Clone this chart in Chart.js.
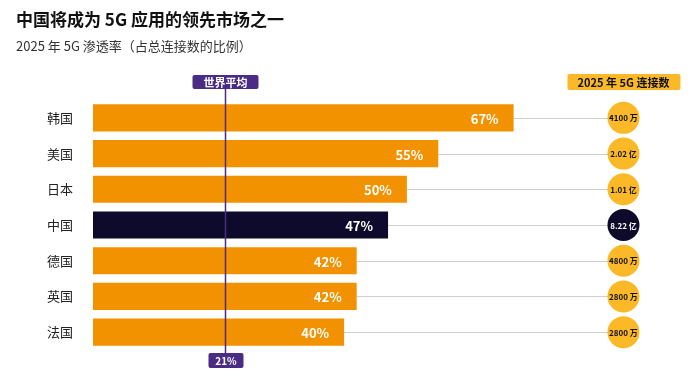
<!DOCTYPE html>
<html><head><meta charset="utf-8">
<script src="https://cdn.jsdelivr.net/npm/chart.js@4/dist/chart.umd.min.js"></script>
<style>
html,body{margin:0;padding:0;background:#fff;}
#wrap{position:relative;width:700px;height:383px;overflow:hidden;}
#t{position:absolute;left:16px;top:6px;margin:0;font:bold 17px "Noto Sans CJK SC","Noto Sans",sans-serif;color:#111;white-space:nowrap;}
#s{position:absolute;left:16px;top:36px;margin:0;font:13px "Noto Sans CJK SC","Noto Sans",sans-serif;color:#333;white-space:nowrap;}
#c{position:absolute;left:0;top:0;}
</style></head>
<body><div id="wrap">
<canvas id="c" width="700" height="383"></canvas>
<h1 id="t">中国将成为 5G 应用的领先市场之一</h1>
<p id="s">2025 年 5G 渗透率（占总连接数的比例）</p>
</div>
<script>
const categories = ['韩国','美国','日本','中国','德国','英国','法国'];
const penetration = [67, 55, 50, 47, 42, 42, 40];
const connections = ['4100 万','2.02 亿','1.01 亿','8.22 亿','4800 万','2800 万','2800 万'];
const highlighted = '中国';
const worldAverage = 21;
const worldAverageLabel = '世界平均';
const connectionsHeader = '2025 年 5G 连接数';

const ORANGE = '#F39200', NAVY = '#0E0A2B', YELLOW = '#FBB928', PURPLE = '#4B2C85';
const FONT = '"Noto Sans CJK SC","Noto Sans",sans-serif';
const CIRCLE_X = 84.5; // value position of connection circles

function rrect(ctx, x, y, w, h, r){
  ctx.beginPath();
  ctx.moveTo(x+r,y);ctx.lineTo(x+w-r,y);ctx.quadraticCurveTo(x+w,y,x+w,y+r);
  ctx.lineTo(x+w,y+h-r);ctx.quadraticCurveTo(x+w,y+h,x+w-r,y+h);
  ctx.lineTo(x+r,y+h);ctx.quadraticCurveTo(x,y+h,x,y+h-r);
  ctx.lineTo(x,y+r);ctx.quadraticCurveTo(x,y,x+r,y);ctx.closePath();
}

const overlay = {
  id:'overlay',
  beforeDatasetsDraw(chart){
    const ctx = chart.ctx, xs = chart.scales.x, meta = chart.getDatasetMeta(0);
    const cx = xs.getPixelForValue(CIRCLE_X);
    ctx.save();
    ctx.strokeStyle = '#cfcfcf'; ctx.lineWidth = 1;
    meta.data.forEach((bar)=>{
      ctx.beginPath(); ctx.moveTo(bar.x, Math.round(bar.y)+0.5); ctx.lineTo(cx, Math.round(bar.y)+0.5); ctx.stroke();
    });
    ctx.restore();
  },
  afterDatasetsDraw(chart){
    const ctx = chart.ctx, xs = chart.scales.x, meta = chart.getDatasetMeta(0);
    const cx = xs.getPixelForValue(CIRCLE_X);
    ctx.save();
    // bar value labels
    ctx.font = 'bold 13px ' + FONT; ctx.fillStyle = '#fff';
    ctx.textAlign = 'right'; ctx.textBaseline = 'middle';
    meta.data.forEach((bar,i)=>{ ctx.fillText(penetration[i] + '%', bar.x - 15, bar.y + 1); });
    // circles
    meta.data.forEach((bar,i)=>{
      const dark = categories[i] === highlighted;
      ctx.beginPath(); ctx.arc(cx, bar.y, 16, 0, Math.PI*2);
      ctx.fillStyle = dark ? NAVY : YELLOW; ctx.fill();
      ctx.fillStyle = dark ? '#fff' : '#111';
      ctx.font = 'bold 8px ' + FONT; ctx.textAlign = 'center';
      ctx.fillText(connections[i], cx, bar.y + 0.5);
    });
    // header box
    ctx.font = 'bold 11px ' + FONT;
    ctx.fillStyle = YELLOW; rrect(ctx, cx - 56, 74, 113, 16, 2); ctx.fill();
    ctx.fillStyle = '#111'; ctx.textAlign = 'center';
    ctx.fillText(connectionsHeader, cx, 82.5);
    // world average line
    const ax = Math.round(xs.getPixelForValue(worldAverage)) + 0.5;
    ctx.strokeStyle = PURPLE; ctx.lineWidth = 1.5;
    ctx.beginPath(); ctx.moveTo(ax, 89); ctx.lineTo(ax, 353); ctx.stroke();
    ctx.fillStyle = PURPLE; rrect(ctx, ax - 33, 75, 66, 14, 2); ctx.fill();
    ctx.fillStyle = '#fff'; ctx.font = 'bold 11px ' + FONT;
    ctx.fillText(worldAverageLabel, ax, 82.5);
    ctx.fillStyle = PURPLE; rrect(ctx, ax - 17, 353, 35, 15, 2); ctx.fill();
    ctx.fillStyle = '#fff'; ctx.font = 'bold 10px ' + FONT;
    ctx.fillText(worldAverage + '%', ax + 0.5, 361);
    ctx.restore();
  }
};

new Chart(document.getElementById('c'), {
  type:'bar',
  data:{ labels:categories, datasets:[{
    data:penetration,
    backgroundColor: categories.map(c => c === highlighted ? NAVY : ORANGE),
    borderWidth:0, categoryPercentage:1, barPercentage:0.76
  }]},
  options:{
    indexAxis:'y', responsive:false, animation:false,
    layout:{ padding:{ left:0, right:42, top:100, bottom:33 } },
    plugins:{ legend:{display:false}, tooltip:{enabled:false} },
    scales:{
      x:{ display:false, min:0, max:90 },
      y:{ grid:{display:false}, border:{display:false},
          ticks:{ color:'#222', font:{ family:FONT, size:13 }, padding:12 },
          afterFit(s){ s.width = 93; } }
    }
  },
  plugins:[overlay]
});
</script>
</body></html>
